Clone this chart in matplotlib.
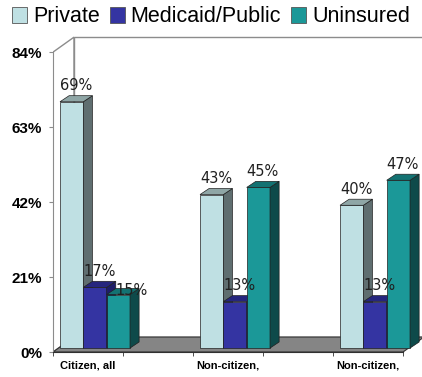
import numpy as np
import matplotlib; matplotlib.use("Agg"); import matplotlib.pyplot as plt
from matplotlib.patches import Polygon, Patch

# data
groups = ["Citizen, all", "Non-citizen,", "Non-citizen,"]
series = ["Private", "Medicaid/Public", "Uninsured"]
private = [69, 43, 40]
medicaid = [17, 13, 13]
uninsured = [15, 45, 47]
yticks = [0, 21, 42, 63, 84]

front = ["#bfe0e3", "#3434a2", "#1b9898"]
side = ["#5f6e70", "#1e1e6a", "#0e4a4a"]
top = ["#8fa6a6", "#26267e", "#137272"]

fig = plt.figure(figsize=(4.22, 3.77), dpi=100)
ax = fig.add_axes([53/422, 25/377, 369/422, 322/377])
ax.set_xlim(-0.5, 4.771); ax.set_ylim(0, 90.2)

# 3d box: wall depth and bar offsets (data units)
WX, WY = 0.3, 4.2      # full depth of walls/floor
SX, SY = 0.1, 1.1      # bar shift from front plane
DX, DY = 0.13, 1.7     # bar depth
ncat = 5
x0, x1 = -0.5, ncat - 0.5

# left side wall, back wall, floor
ax.add_patch(Polygon([(x0, 0), (x0, 84), (x0+WX, 84+WY), (x0+WX, WY)], closed=True,
                     fc="white", ec="#8c8c8c", lw=1, zorder=1))
ax.add_patch(Polygon([(x0+WX, WY), (x0+WX, 84+WY), (x1+WX+1, 84+WY), (x1+WX+1, WY)], closed=True,
                     fc="white", ec="#8c8c8c", lw=1, zorder=1))
ax.add_patch(Polygon([(x0, 0), (x1, 0), (x1+WX, WY), (x0+WX, WY)], closed=True,
                     fc="#858585", ec="#303030", lw=0.8, zorder=2))

vals = [private, medicaid, uninsured]
w = 1/3
for g in range(len(groups)):
    c = 2*g
    prev = None
    for j in range(3):
        v = vals[j][g]
        left = c - 0.5 + j*w + SX
        ax.bar(left, v, width=w, bottom=SY, align="edge", color=front[j],
               edgecolor="#202020", lw=0.5, zorder=3+j+3*g)
        r = left + w; t = v + SY
        ax.add_patch(Polygon([(r, SY), (r, t), (r+DX, t+DY), (r+DX, SY+DY)], closed=True,
                             fc=side[j], ec="#202020", lw=0.5, zorder=3+j+3*g))
        ax.add_patch(Polygon([(left, t), (r, t), (r+DX, t+DY), (left+DX, t+DY)], closed=True,
                             fc=top[j], ec="#202020", lw=0.5, zorder=3+j+3*g))
        lx, ly = left + (w+DX)/2, t + DY + 2.8
        # nudge a label that would run into its neighbour
        if prev is not None and abs(ly - prev[1]) < 4 and lx - prev[0] < 0.45:
            lx = prev[0] + 0.46
            ly = min(ly, prev[1] - 5.5)
        ax.text(lx, ly, f"{v}%", ha="center", va="center",
                fontsize=10.5, family="DejaVu Sans", color="#202020", zorder=20)
        prev = (lx, ly)

for s in ["top", "right"]:
    ax.spines[s].set_visible(False)
ax.spines["left"].set_bounds(0, 84); ax.spines["left"].set_color("#8c8c8c")
ax.spines["bottom"].set_bounds(x0, x1); ax.spines["bottom"].set_color("#303030")
ax.spines["bottom"].set_zorder(2.5)
ax.set_yticks(yticks, [f"{t}%" for t in yticks], fontsize=11, fontweight="bold",
              family="Liberation Sans")
ax.tick_params(axis="y", length=3, pad=5, color="#8c8c8c")
ax.set_xticks([0, 2, 4], groups, fontsize=8, fontweight="bold", family="Liberation Sans")
ax.set_xticks(np.arange(x0, x1+0.1, 1), minor=True)
ax.tick_params(axis="x", which="major", length=0, pad=6)
ax.tick_params(axis="x", which="minor", length=3, color="#303030")

handles = [Patch(fc=front[j], ec="#555555", lw=0.6) for j in range(3)]
fig.legend(handles, series, loc="center", bbox_to_anchor=(0.5, 1-17/377), ncol=3,
           frameon=False, prop={"family": "Liberation Sans", "size": 15.5},
           handlelength=0.7, handleheight=0.7, handletextpad=0.28, columnspacing=0.47,
           borderpad=0, borderaxespad=0)

fig.savefig("out.png", dpi=100)
